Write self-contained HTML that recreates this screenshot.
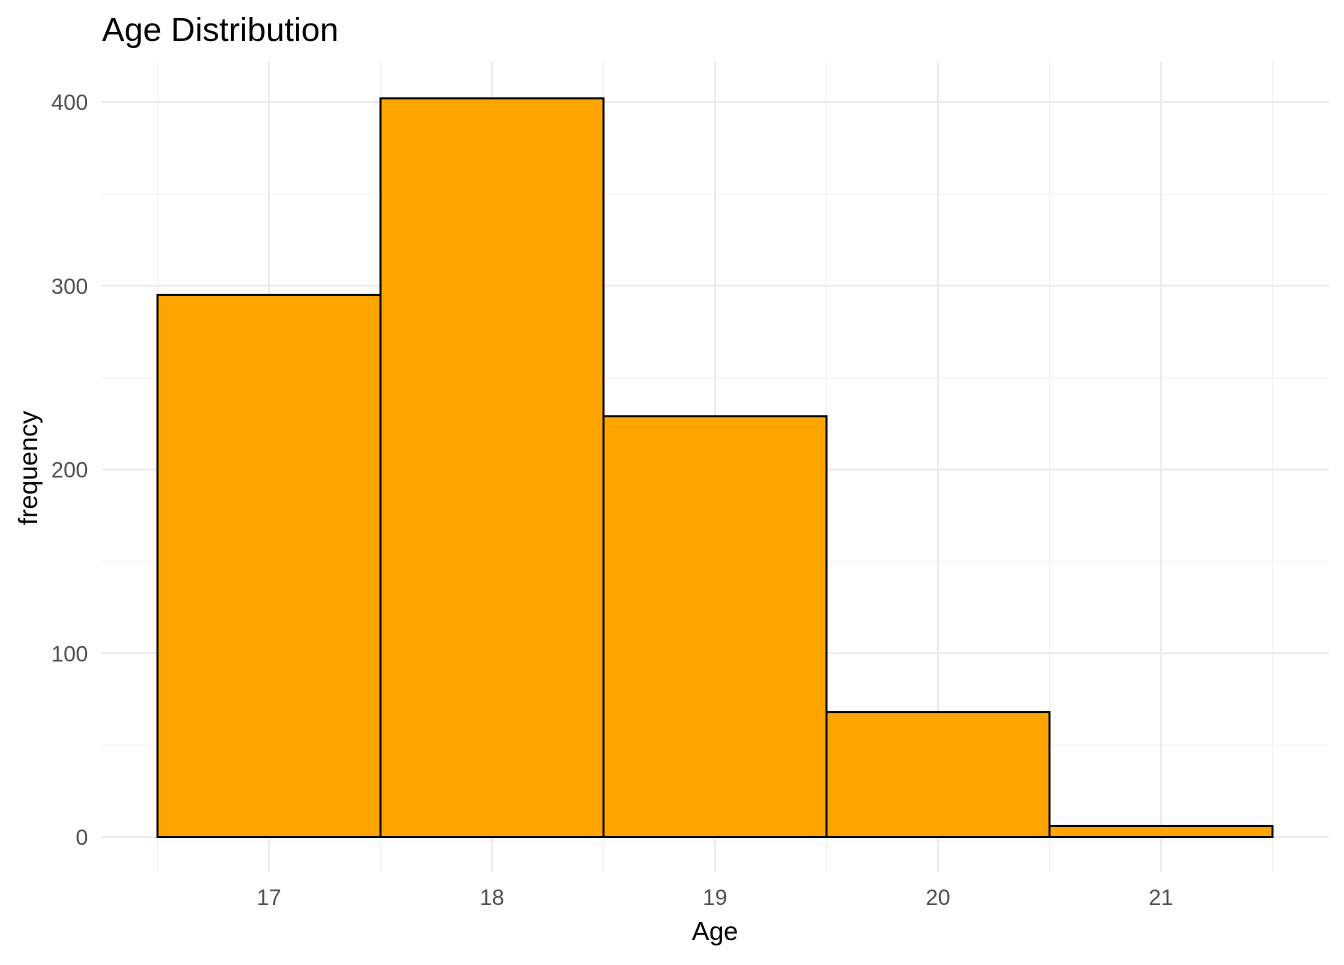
<!DOCTYPE html>
<html><head><meta charset="utf-8"><style>
html,body{margin:0;padding:0;background:#fff}
svg text{font-family:"Liberation Sans",Arial,sans-serif}
</style></head><body>
<svg id="chart" width="1344" height="960" xmlns="http://www.w3.org/2000/svg">
<text x="102" y="41" font-size="33.5" fill="#000">Age Distribution</text>
<g id="grid"></g>
<g id="bars"></g>
<g id="ticks"></g>
<text x="715" y="940" font-size="26" text-anchor="middle" fill="#000">Age</text>
<text transform="translate(37,468) rotate(-90)" font-size="26" text-anchor="middle" fill="#000">frequency</text>
</svg>
<script>
const categories = [17, 18, 19, 20, 21];
const counts = [295, 402, 229, 68, 6];
const yTicks = [0, 100, 200, 300, 400];
const yMinor = [50, 150, 250, 350];
const xMinor = [16.5, 17.5, 18.5, 19.5, 20.5, 21.5];

const NS = "http://www.w3.org/2000/svg";
const px0 = 102, px1 = 1329, py0 = 62, py1 = 872;
function xs(v){ return 269 + (v - 17) * 223; }
function ys(v){ return 837 - v * 1.8375; }
function mk(tag, attrs, parent){
  const e = document.createElementNS(NS, tag);
  for (const k in attrs) e.setAttribute(k, attrs[k]);
  parent.appendChild(e); return e;
}
const grid = document.getElementById('grid');
const bars = document.getElementById('bars');
const ticks = document.getElementById('ticks');

yMinor.forEach(v => {
  const l = mk('line', {x1:px0, x2:px1, y1:ys(v), y2:ys(v), stroke:'#f0f0f0', 'stroke-width':1}, grid);
  
  
});
xMinor.forEach(v => {
  const l = mk('line', {x1:xs(v), x2:xs(v), y1:py0, y2:py1, stroke:'#f0f0f0', 'stroke-width':1}, grid);
  
  
});
yTicks.forEach(v => {
  const l = mk('line', {x1:px0, x2:px1, y1:ys(v), y2:ys(v), stroke:'#ebebeb', 'stroke-width':2}, grid);
  
  
  const t = mk('text', {x:88, y:ys(v)+8, 'font-size':22, 'text-anchor':'end', fill:'#4d4d4d'}, ticks);
  t.textContent = v;
  
  
});
categories.forEach(v => {
  const l = mk('line', {x1:xs(v), x2:xs(v), y1:py0, y2:py1, stroke:'#ebebeb', 'stroke-width':2}, grid);
  
  
  const t = mk('text', {x:xs(v), y:905, 'font-size':22, 'text-anchor':'middle', fill:'#4d4d4d'}, ticks);
  t.textContent = v;
  
  
});
categories.forEach((c, i) => {
  const x0 = xs(c - 0.5), x1 = xs(c + 0.5);
  const r = mk('rect', {x:x0, y:ys(counts[i]), width:x1-x0, height:ys(0)-ys(counts[i]), fill:'#FFA500', stroke:'#000', 'stroke-width':2}, bars);
  
  
});
</script>
</body></html>
